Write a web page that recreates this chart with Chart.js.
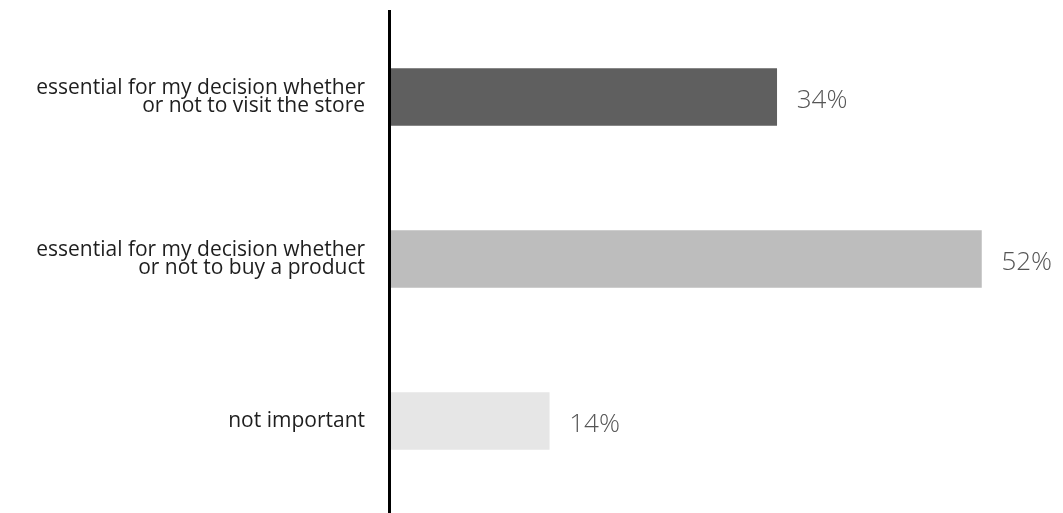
<!DOCTYPE html>
<html>
<head>
<meta charset="utf-8">
<script src="https://cdn.jsdelivr.net/npm/chart.js@4/dist/chart.umd.min.js"></script>
<style>
  html, body { margin: 0; padding: 0; background: #fff; }
  #wrap { width: 1063px; height: 513px; position: relative; }
</style>
</head>
<body>
<div id="wrap"><canvas id="myChart"></canvas></div>
<script>
// survey answers
const categories = [
  ['essential for my decision whether', 'or not to visit the store'],
  ['essential for my decision whether', 'or not to buy a product'],
  'not important'
];
const shares = [34, 52, 14];
const barColors = ['#5f5f5f', '#bdbdbd', '#e6e6e6'];

const fontFamily = '"Open Sans", Lato, sans-serif';

// value labels to the right of each bar + the vertical axis line
const valueLabels = {
  id: 'valueLabels',
  afterDatasetsDraw(chart) {
    const ctx = chart.ctx;
    const meta = chart.getDatasetMeta(0);
    ctx.save();
    ctx.font = '300 26px ' + fontFamily;
    ctx.fillStyle = '#555555';
    ctx.textAlign = 'left';
    ctx.textBaseline = 'middle';
    meta.data.forEach((bar, i) => {
      ctx.fillText(shares[i] + '%', bar.x + 20, bar.y + 4);
    });
    ctx.restore();
  },
  afterDraw(chart) {
    const ctx = chart.ctx;
    const x = chart.chartArea.left - 0.5;
    ctx.save();
    ctx.strokeStyle = '#000';
    ctx.lineWidth = 3;
    ctx.beginPath();
    ctx.moveTo(x, 10);
    ctx.lineTo(x, chart.height);
    ctx.stroke();
    ctx.restore();
  }
};

const data = {
  labels: categories,
  datasets: [
    {
      data: shares,
      backgroundColor: barColors,
      borderWidth: 0,
      barThickness: 57
    }
  ]
};

const config = {
  type: 'bar',
  data: data,
  plugins: [valueLabels],
  options: {
    indexAxis: 'y',
    responsive: true,
    maintainAspectRatio: false,
    animation: false,
    layout: { padding: { top: 16, bottom: 11, right: 52, left: 0 } },
    plugins: {
      legend: { display: false },
      tooltip: { enabled: false }
    },
    scales: {
      x: {
        min: 0,
        max: 54.6,
        display: false,
        grid: { display: false }
      },
      y: {
        grid: { display: false, drawTicks: false },
        border: { display: false },
        ticks: {
          color: '#1e1e1e',
          padding: 25,
          font: { family: fontFamily, size: 21, lineHeight: 0.86 }
        },
        afterFit(scale) {
          scale.width = 390;
          scale.paddingTop = 0;
          scale.paddingBottom = 0;
        }
      }
    }
  }
};

const myChart = new Chart(document.getElementById('myChart'), config);
</script>
</body>
</html>
